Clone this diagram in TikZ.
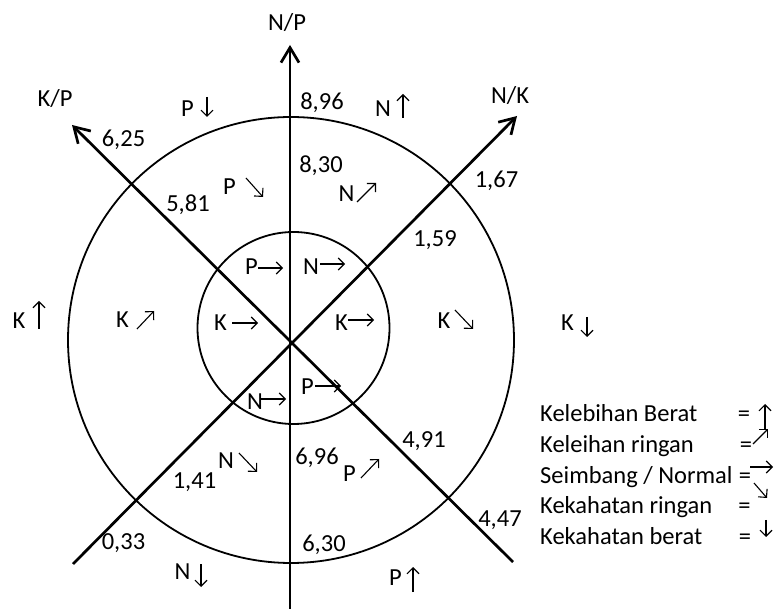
\documentclass[tikz,border=0pt]{standalone}
\usepackage{fontspec}
\setmainfont{Carlito}
\usetikzlibrary{arrows.meta}
\tikzset{
  axis/.style={line width=2.7pt,-{Straight Barb[length=15pt,width=18pt]}},
  ring/.style={line width=1.8pt},
  txt/.style={inner sep=0pt,anchor=base,font=\fontsize{24.5}{29}\selectfont},
  ltxt/.style={inner sep=0pt,anchor=base west,font=\fontsize{24.5}{29}\selectfont},
  sarr/.style={line width=1.1pt,-{Straight Barb[length=6pt,width=12pt]}},
}
\newcommand\lab[5]{%
  \node[txt] (#1) at #2 {#3};
  \draw[sarr] ([shift={#4}]#1.base) -- ++#5;}
\begin{document}
\begin{tikzpicture}[x=1pt,y=-1pt]
\useasboundingbox (0,0) rectangle (777,609);
\coordinate (oc) at (291,340);
\coordinate (ic) at (293.5,328);
\draw[ring] (oc) circle (223);
\draw[ring] (ic) circle (96);
\coordinate (npTip) at (290,45);
\coordinate (npEnd) at (290,612);
\coordinate (kpTip) at (72,125);
\coordinate (kpEnd) at (513,562);
\coordinate (nkTip) at (517,116);
\coordinate (nkEnd) at (73,564);
\draw[axis] (npEnd) -- (npTip);
\draw[axis] (kpEnd) -- (kpTip);
\draw[axis] (nkEnd) -- (nkTip);
\node[txt] (NP) at (287,31) {N/P};
\node[txt] (KP) at (55,107) {K/P};
\node[txt] (NK) at (510,104) {N/K};
\node[txt] (v896) at (322,110) {8,96};
\node[txt] (v625) at (123.5,147) {6,25};
\node[txt] (v830) at (321,173) {8,30};
\node[txt] (v581) at (188,212) {5,81};
\node[txt] (v167) at (496.5,188) {1,67};
\node[txt] (v159) at (435,247) {1,59};
\node[txt] (v141) at (194.5,489) {1,41};
\node[txt] (v696) at (317,465) {6,96};
\node[txt] (v630) at (324,551) {6,30};
\node[txt] (v033) at (123.5,549) {0,33};
\node[txt] (v491) at (424,448) {4,91};
\node[txt] (v447) at (500,527) {4,47};
\lab{tP}{(187.5,117)}{P}{(19.5,-20)}{(0,20)}
\lab{tN}{(383,117)}{N}{(20,1)}{(0,-24)}
\lab{mP}{(229.5,195)}{P}{(16.5,-17)}{(17,19)}
\lab{mN}{(346.5,202)}{N}{(10.5,0)}{(19,-19)}
\lab{oK}{(19,329)}{K}{(20,0)}{(0,-28)}
\lab{mK}{(122.5,328)}{K}{(14.5,1)}{(17,-18)}
\lab{iP}{(251.5,275)}{P}{(6.5,-7)}{(25,0)}
\lab{iN}{(311,275)}{N}{(9,-11)}{(25,0)}
\lab{iKl}{(220.5,331)}{K}{(11.5,-8)}{(26,0)}
\lab{iKr}{(341.5,331)}{K}{(6.5,-11)}{(26,0)}
\lab{iPb}{(307.5,395)}{P}{(7.5,-9)}{(26,0)}
\lab{iNb}{(255,410)}{N}{(6,-11)}{(25,0)}
\lab{rK}{(444,329)}{K}{(11,-19)}{(18,19)}
\lab{oKr}{(567.5,331)}{K}{(19.5,-14)}{(0,20)}
\lab{bN}{(226,469)}{N}{(13,-16)}{(18,19)}
\lab{bP}{(349.5,482)}{P}{(11.5,-4)}{(18,-19)}
\lab{oN}{(182.5,579)}{N}{(18.5,-15)}{(0,23)}
\lab{oP}{(395.5,585)}{P}{(17.5,7)}{(0,-25)}
\node[ltxt] (L1) at (540,422) {Kelebihan Berat};
\node[ltxt] (L2) at (540,453) {Keleihan ringan};
\node[ltxt] (L3) at (540,484) {Seimbang / Normal};
\node[ltxt] (L4) at (540,514) {Kekahatan ringan};
\node[ltxt] (L5) at (540,544) {Kekahatan berat};
\node[txt] (E1) at (744,422) {=};
\node[txt] (E2) at (746,453) {=};
\node[txt] (E3) at (745,484) {=};
\node[txt] (E4) at (744.5,514) {=};
\node[txt] (E5) at (745,544) {=};
\draw[sarr] ([shift={(21,7)}]E1.base) -- ++(0,-25);
\draw[sarr] ([shift={(7,-9)}]E2.base) -- ++(15,-15);
\draw[sarr] ([shift={(5,-17)}]E3.base) -- ++(23,0);
\draw[sarr] ([shift={(9,-1)}]E3.base) -- ++(13,15);
\draw[sarr] ([shift={(21,-24)}]E5.base) -- ++(0,17);
\end{tikzpicture}
\end{document}
